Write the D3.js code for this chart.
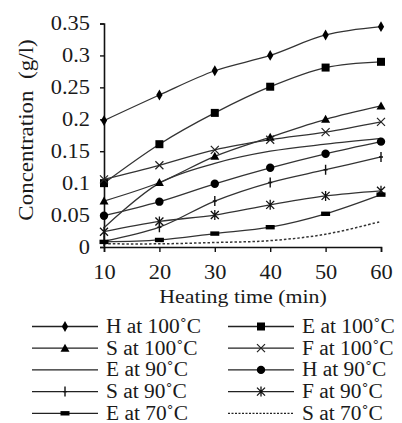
<!DOCTYPE html>
<html>
<head>
<meta charset="utf-8">
<script src="https://cdn.jsdelivr.net/npm/d3@7.9.0/dist/d3.min.js"></script>
<style>
  body { margin: 0; background: #fff; }
  svg text { font-family: "Liberation Serif", "Times New Roman", serif; fill: #1a1a1a; }
</style>
</head>
<body>
<svg id="chart" width="402" height="423"></svg>
<script>
const times = [10, 20, 30, 40, 50, 60];
const yTicks = [0, 0.05, 0.1, 0.15, 0.2, 0.25, 0.3, 0.35];

const h100 = [0.198, 0.238, 0.276, 0.300, 0.332, 0.345];
const e100 = [0.100, 0.161, 0.210, 0.251, 0.281, 0.290];
const s100 = [0.072, 0.101, 0.142, 0.172, 0.200, 0.221];
const f100 = [0.106, 0.128, 0.152, 0.168, 0.180, 0.196];
const e90 = [0.030, 0.100, 0.131, 0.150, 0.161, 0.170];
const h90 = [0.049, 0.071, 0.099, 0.124, 0.146, 0.165];
const s90 = [0.009, 0.031, 0.072, 0.101, 0.121, 0.141];
const f90 = [0.024, 0.040, 0.050, 0.066, 0.080, 0.088];
const e70 = [0.008, 0.011, 0.021, 0.031, 0.052, 0.082];
const s70 = [0.005, 0.005, 0.007, 0.010, 0.020, 0.040];

const seriesNames = ['H at 100˚C', 'E at 100˚C', 'S at 100˚C', 'F at 100˚C', 'E at 90˚C',
  'H at 90˚C', 'S at 90˚C', 'F at 90˚C', 'E at 70˚C', 'S at 70˚C'];
const seriesValues = [h100, e100, s100, f100, e90, h90, s90, f90, e70, s70];
const seriesMarkers = ['diamond', 'square', 'triangle', 'cross', 'none',
  'circle', 'plus', 'star', 'dash', 'none'];

const svg = d3.select('#chart');

const x = d3.scaleLinear().domain([10, 60]).range([104, 381]);
const y = d3.scaleLinear().domain([0, 0.35]).range([247, 23.5]);

// the source figure's text is a little wider than plain Times:
// stretch it and re-anchor by hand (textLength only grows to the right)
function widen(sel, k = 1.1) {
  sel.each(function () {
    const w = this.getComputedTextLength();
    const nw = w * k;
    const anchor = getComputedStyle(this).textAnchor;
    const x0 = +d3.select(this).attr('x') || 0;
    const xs = anchor === 'middle' ? x0 - nw / 2 : anchor === 'end' ? x0 - nw : x0;
    d3.select(this)
      .attr('text-anchor', 'start')
      .attr('x', xs)
      .attr('textLength', nw)
      .attr('lengthAdjust', 'spacingAndGlyphs');
  });
}

// axes
const yAxis = svg.append('g')
  .attr('transform', 'translate(104,0)')
  .call(d3.axisLeft(y).tickValues(yTicks).tickSize(4).tickPadding(10)
    .tickFormat(d => d === 0 ? '0' : String(+d.toFixed(2))));

const xAxis = svg.append('g')
  .attr('transform', 'translate(0,247)')
  .call(d3.axisBottom(x).tickValues(times).tickSize(5).tickPadding(13));

[xAxis, yAxis].forEach(g => {
  g.attr('font-family', null).attr('font-size', null);
  g.select('.domain').attr('stroke', '#111').attr('stroke-width', 1.6);
  g.selectAll('.tick line').attr('stroke', '#111').attr('stroke-width', 1.4);
  g.selectAll('text').attr('font-size', 20).attr('fill', '#1a1a1a');
  widen(g.selectAll('text'), 1.12);
});

const yTitle = svg.append('text')
  .attr('transform', 'translate(33,130) rotate(-90)')
  .attr('text-anchor', 'middle')
  .attr('font-size', 20)
  .text('Concentration\u00a0\u00a0(g/l)');
widen(yTitle, 1.15);

const xTitle = svg.append('text')
  .attr('x', 243).attr('y', 303)
  .attr('text-anchor', 'middle')
  .attr('font-size', 19.5)
  .text('Heating time (min)');
widen(xTitle, 1.12);

function drawMarker(g, type, cx, cy) {
  if (type === 'diamond') {
    g.append('path').attr('d', d3.symbol(d3.symbolDiamond, 34)()).attr('transform', `translate(${cx},${cy})`).attr('fill', '#000');
  } else if (type === 'square') {
    g.append('rect').attr('x', cx - 4).attr('y', cy - 4).attr('width', 8).attr('height', 8).attr('fill', '#000');
  } else if (type === 'triangle') {
    g.append('path').attr('d', `M${cx},${cy - 4.5}L${cx + 4.5},${cy + 3.5}L${cx - 4.5},${cy + 3.5}Z`).attr('fill', '#000');
  } else if (type === 'circle') {
    g.append('circle').attr('cx', cx).attr('cy', cy).attr('r', 4.2).attr('fill', '#000');
  } else if (type === 'cross') {
    g.append('path').attr('d', `M${cx - 4},${cy - 4}L${cx + 4},${cy + 4}M${cx - 4},${cy + 4}L${cx + 4},${cy - 4}`)
      .attr('stroke', '#222').attr('stroke-width', 1.2).attr('fill', 'none');
  } else if (type === 'plus') {
    g.append('path').attr('d', `M${cx},${cy - 5}L${cx},${cy + 5}M${cx - 2},${cy}L${cx + 2},${cy}`)
      .attr('stroke', '#111').attr('stroke-width', 1.4).attr('fill', 'none');
  } else if (type === 'star') {
    g.append('path').attr('d', `M${cx - 4},${cy - 4}L${cx + 4},${cy + 4}M${cx - 4},${cy + 4}L${cx + 4},${cy - 4}M${cx},${cy - 5}L${cx},${cy + 5}`)
      .attr('stroke', '#111').attr('stroke-width', 1.3).attr('fill', 'none');
  } else if (type === 'dash') {
    g.append('rect').attr('x', cx - 4.5).attr('y', cy - 2.2).attr('width', 9).attr('height', 4.4).attr('fill', '#000');
  }
}

const line = d3.line()
  .x((d, i) => x(times[i]))
  .y(d => y(d))
  .curve(d3.curveCatmullRom.alpha(0.5));

const plot = svg.append('g');
seriesValues.forEach((vals, k) => {
  plot.append('path')
    .attr('d', line(vals))
    .attr('fill', 'none')
    .attr('stroke', '#333')
    .attr('stroke-width', k === 9 ? 1.5 : 1.3)
    .attr('stroke-dasharray', k === 9 ? '2.5,2' : null);
});
seriesValues.forEach((vals, k) => {
  const g = plot.append('g');
  vals.forEach((v, i) => drawMarker(g, seriesMarkers[k], x(times[i]), y(v)));
});

// legend
const legend = svg.append('g');
seriesNames.forEach((name, k) => {
  const col = k % 2, row = Math.floor(k / 2);
  const x0 = col === 0 ? 32 : 228;
  const cy = 326.5 + row * 21.7;
  const g = legend.append('g');
  g.append('line')
    .attr('x1', x0).attr('x2', x0 + 66).attr('y1', cy).attr('y2', cy)
    .attr('stroke', '#222').attr('stroke-width', 1.3)
    .attr('stroke-dasharray', k === 9 ? '2,1.5' : null);
  drawMarker(g, seriesMarkers[k], x0 + 33, cy);
  const t = g.append('text')
    .attr('x', x0 + 74).attr('y', cy + 6.5)
    .attr('font-size', 20)
    .text(name);
  widen(t, 1.07);
});
</script>
</body>
</html>
